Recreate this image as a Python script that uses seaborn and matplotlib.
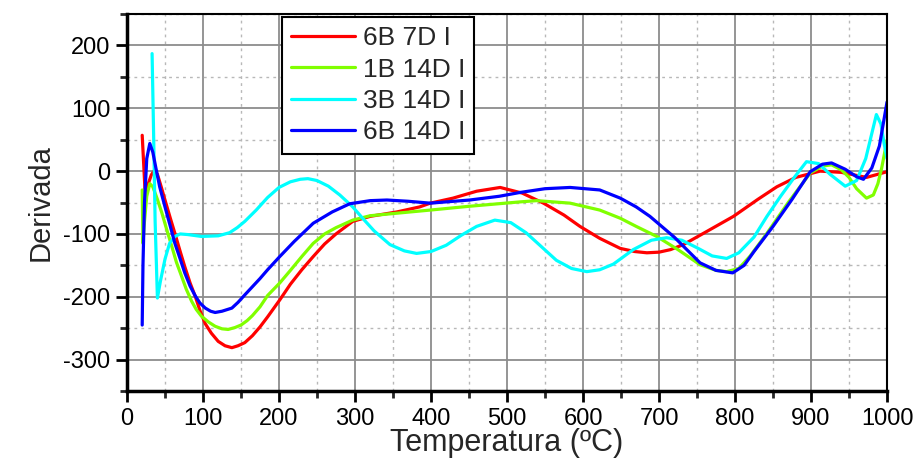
import numpy as np
import pandas as pd
import matplotlib
matplotlib.use("Agg")
import matplotlib.pyplot as plt
from matplotlib.ticker import MultipleLocator
import seaborn as sns

# Values (temperature in C, derivative)
labels = ["6B 7D I", "1B 14D I", "3B 14D I", "6B 14D I"]
colors = ["#ff0000", "#80ff00", "#00ffff", "#0000ff"]

t_6b7d = [20, 22, 24, 28, 32, 36, 40, 45, 50, 57, 63, 70, 76, 83, 90, 96, 103, 111, 120,
          129, 138, 146, 155, 165, 175, 185, 201, 215, 230, 245, 260, 275, 297, 320, 355,
          385, 399, 429, 460, 491, 520, 548, 575, 596, 622, 649, 668, 684, 700, 715, 732,
          760, 798, 830, 855, 880, 912, 940, 973, 1000]
d_6b7d = [57, 10, -38, -20, -6, 1, -5, -25, -46, -75, -99, -128, -152, -178, -200, -222, -243,
          -258, -271, -278, -281, -278, -273, -262, -248, -232, -205, -180, -157, -136, -116,
          -100, -80, -72, -65, -57, -51, -43, -32, -26, -35, -51, -70, -88, -107, -123, -128,
          -130, -129, -125, -117, -98, -72, -45, -25, -10, 0, -2, -10, -1]

t_1b14d = [20, 21, 23, 26, 30, 34, 40, 46, 52, 59, 65, 72, 78, 85, 91, 98, 107, 116, 125,
           133, 142, 150, 158, 165, 175, 185, 201, 215, 230, 245, 260, 275, 297, 320, 355,
           399, 450, 517, 539, 583, 622, 649, 670, 697, 725, 754, 775, 789, 805, 820, 842,
           870, 899, 915, 927, 940, 950, 960, 973, 982, 988, 993, 1000]
d_1b14d = [-30, -115, -80, -40, -20, -25, -45, -67, -92, -120, -145, -168, -188, -207, -220,
           -231, -240, -247, -251, -252, -249, -245, -238, -230, -216, -198, -178, -158, -136,
           -115, -100, -90, -78, -71, -67, -62, -56, -49, -47, -51, -62, -75, -88, -104, -125,
           -149, -158, -160, -155, -135, -99, -50, -3, 8, 10, 2, -10, -28, -43, -38, -20, 5, 49]

t_3b14d = [33, 35, 37, 40, 44, 50, 56, 63, 70, 80, 98, 120, 135, 145, 155, 170, 185, 200, 215,
           228, 238, 250, 265, 280, 297, 310, 325, 346, 365, 381, 400, 420, 440, 460, 484,
           505, 525, 545, 565, 585, 605, 622, 640, 666, 690, 710, 730, 750, 770, 789, 805,
           825, 842, 860, 878, 894, 910, 925, 945, 960, 972, 980, 986, 992, 996, 1000]
d_3b14d = [187, 60, -80, -202, -175, -140, -115, -104, -100, -101, -104, -103, -98, -90, -80,
           -62, -42, -26, -17, -13, -12, -15, -24, -38, -57, -75, -95, -117, -127, -131, -128,
           -118, -102, -88, -78, -82, -98, -120, -142, -155, -160, -157, -148, -125, -110,
           -106, -110, -122, -135, -139, -130, -105, -72, -40, -10, 15, 12, -5, -24, -15, 20,
           60, 90, 75, 45, 20]

t_6b14d = [20, 21, 23, 26, 30, 34, 38, 43, 50, 57, 63, 70, 76, 83, 90, 96, 103, 110, 116,
           125, 138, 146, 155, 165, 175, 185, 201, 220, 245, 270, 293, 320, 342, 370, 399,
           451, 490, 517, 550, 583, 622, 649, 670, 688, 720, 754, 775, 797, 812, 825, 850,
           875, 899, 915, 927, 945, 960, 969, 980, 990, 1000]
d_6b14d = [-245, -150, -50, 20, 44, 30, 5, -25, -57, -88, -115, -140, -162, -183, -199, -210,
           -218, -223, -225, -223, -218, -209, -197, -184, -171, -157, -136, -112, -83, -65,
           -52, -47, -46, -48, -51, -46, -40, -34, -28, -26, -30, -43, -57, -72, -105, -146,
           -158, -162, -150, -128, -88, -45, -1, 11, 13, 3, -9, -13, 5, 40, 110]

series = [(t_6b7d, d_6b7d), (t_1b14d, d_1b14d), (t_3b14d, d_3b14d), (t_6b14d, d_6b14d)]

sns.set_style("ticks")
plt.rcParams["font.family"] = ["Liberation Sans", "DejaVu Sans"]
plt.rcParams["axes.unicode_minus"] = False

fig = plt.figure(figsize=(9.17, 4.68), dpi=100)
ax = fig.add_axes([0.1385, 0.1645, 0.8288, 0.8055])

for (t, d), lab, col in zip(series, labels, colors):
    df = pd.DataFrame({"T": t, "D": d})
    sns.lineplot(data=df, x="T", y="D", color=col, lw=2.3, label=lab,
                 sort=False, estimator=None, ax=ax)

ax.set_xlim(0, 1000)
ax.set_ylim(-350, 250)
ax.xaxis.set_major_locator(MultipleLocator(100))
ax.xaxis.set_minor_locator(MultipleLocator(50))
ax.set_yticks([-300, -200, -100, 0, 100, 200])
ax.yaxis.set_minor_locator(MultipleLocator(50))

ax.grid(which="major", color="#8c8c8c", lw=1.3, ls="-")
ax.grid(which="minor", color="#b8b8b8", lw=1.0, ls=(0, (2, 3)))
ax.set_axisbelow(True)

for side in ["left", "bottom"]:
    ax.spines[side].set_linewidth(2.5)
for side in ["top", "right"]:
    ax.spines[side].set_linewidth(1.5)
for sp in ax.spines.values():
    sp.set_color("black")

ax.tick_params(which="major", direction="out", length=8, width=2, labelsize=17,
               pad=4, colors="black")
ax.tick_params(which="minor", direction="out", length=5, width=2)

ax.set_xlabel("Temperatura (ºC)", fontsize=22, labelpad=-1)
ax.set_ylabel("Derivada", fontsize=21, labelpad=6)

leg = ax.legend(loc="upper left", bbox_to_anchor=(0.204, 0.992), borderaxespad=0,
                fontsize=19, frameon=True, fancybox=False, handlelength=2.4,
                handletextpad=0.3, labelspacing=0.28, borderpad=0.35)
leg.get_frame().set_edgecolor("black")
leg.get_frame().set_linewidth(1.5)
leg.get_frame().set_alpha(1)
for line in leg.get_lines():
    line.set_linewidth(2.3)

fig.savefig("out.png", dpi=100)
